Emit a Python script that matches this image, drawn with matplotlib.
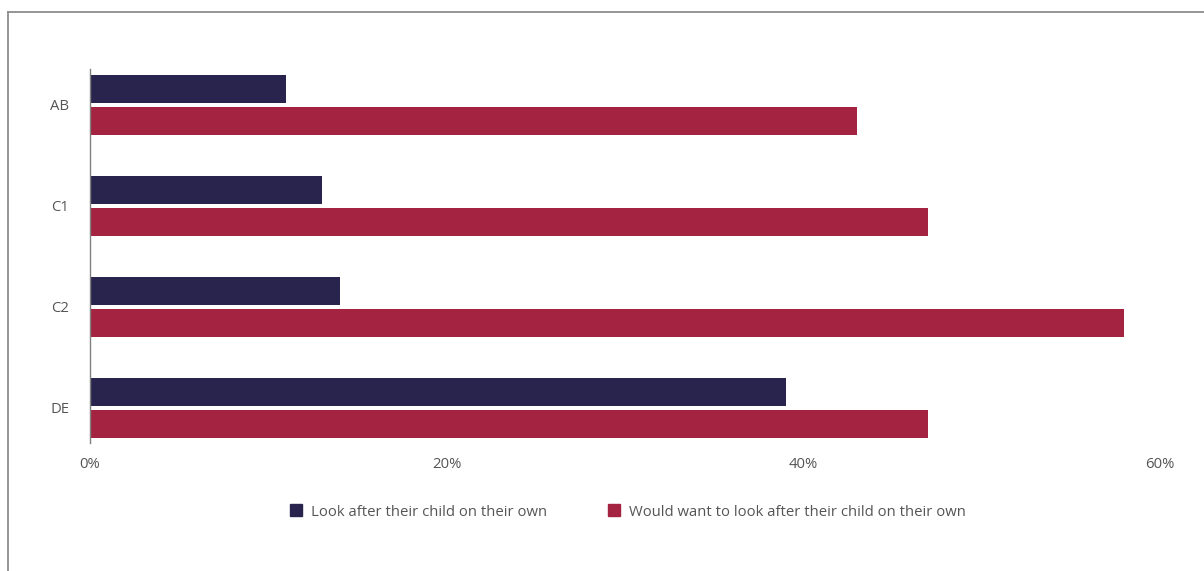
import numpy as np
import matplotlib.pyplot as plt
from matplotlib.lines import Line2D

# datos
grupos = ['AB', 'C1', 'C2', 'DE']
propio = [11, 13, 14, 39]
quiere = [43, 47, 58, 47]
series = ['Look after their child on their own',
          'Would want to look after their child on their own']
ticks = [0, 20, 40, 60]

azul = '#29244d'
rojo = '#a32340'
gris = '#555555'

plt.rcParams['font.family'] = ['Open Sans', 'DejaVu Sans']

fig = plt.figure(figsize=(12.04, 5.71), dpi=100)
ax = fig.add_axes([90/1204, 1-443/571, (1160-90)/1204, (443-69)/571])

y = np.arange(len(grupos))
alto = 0.277
ax.barh(y - 0.158, propio, height=alto, color=azul)
ax.barh(y + 0.158, quiere, height=alto, color=rojo)

ax.set_xlim(0, 60)
ax.set_ylim(3.347, -0.356)
ax.set_yticks(y)
ax.set_yticklabels(grupos)
ax.set_xticks(ticks)
ax.set_xticklabels([f'{t}%' for t in ticks])
ax.tick_params(axis='both', length=0, labelsize=10.7, colors=gris)
ax.tick_params(axis='x', pad=10)
ax.tick_params(axis='y', pad=15)

for s in ['top', 'right', 'bottom']:
    ax.spines[s].set_visible(False)
ax.spines['left'].set_color('#808080')
ax.spines['left'].set_linewidth(1)

# leyenda
handles = [Line2D([], [], marker='s', linestyle='', markersize=9, color=azul),
           Line2D([], [], marker='s', linestyle='', markersize=9, color=rojo)]
fig.legend(handles, series, loc='center', bbox_to_anchor=(0.521, 1-512/571),
           ncol=2, frameon=False, fontsize=10.7, labelcolor=gris,
           handletextpad=0.5, columnspacing=4.0, handlelength=1.0)

# marco
fig.add_artist(Line2D([8/1204, 1], [1-11.5/571, 1-11.5/571], color='#8c8c8c', lw=1.3,
                      transform=fig.transFigure))
fig.add_artist(Line2D([8/1204, 8/1204], [0, 1-11.5/571], color='#8c8c8c', lw=1.3,
                      transform=fig.transFigure))

fig.savefig('out.png', dpi=100)
